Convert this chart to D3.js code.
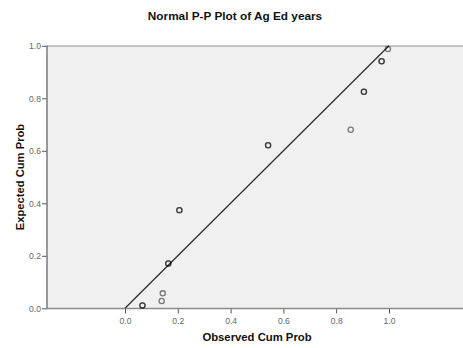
<!DOCTYPE html>
<html>
<head>
<meta charset="utf-8">
<script src="https://cdn.jsdelivr.net/npm/d3@7"></script>
<style>
  html, body { margin: 0; padding: 0; background: #fff; }
  svg { display: block; font-family: "Liberation Sans", Arial, sans-serif; }
</style>
</head>
<body>
<svg id="chart" width="463" height="348"></svg>
<script>
// Observed vs expected cumulative probabilities (one entry per distinct point)
const observedCum = [0.066, 0.139, 0.143, 0.164, 0.206, 0.542, 0.855, 0.905, 0.972, 0.996];
const expectedCum = [0.011, 0.028, 0.057, 0.171, 0.374, 0.621, 0.680, 0.825, 0.941, 0.988];
// Number of cases sharing each point (overlapping markers draw darker)
const caseCount  = [2, 1, 1, 2, 2, 2, 1, 2, 2, 1];
const tickValues = [0.0, 0.2, 0.4, 0.6, 0.8, 1.0];
const refLine    = [0, 1];

const svg = d3.select("#chart");
const plot = { left: 47, top: 46, right: 470, bottom: 308.5 };

const x = d3.scaleLinear().domain([0, 1]).range([125, 389]);
const y = d3.scaleLinear().domain([0, 1]).range([308.3, 45.8]);

// Plot background
svg.append("rect")
  .attr("x", plot.left).attr("y", plot.top)
  .attr("width", plot.right - plot.left).attr("height", plot.bottom - plot.top)
  .attr("fill", "#f0f0f0");

// Top frame line
svg.append("line")
  .attr("x1", plot.left).attr("x2", plot.right)
  .attr("y1", plot.top).attr("y2", plot.top)
  .attr("stroke", "#b4b4b4").attr("stroke-width", 1.5);

// Title
svg.append("text")
  .attr("x", 235).attr("y", 20)
  .attr("text-anchor", "middle")
  .attr("font-size", 11.8).attr("font-weight", "bold").attr("fill", "#111")
  .text("Normal P-P Plot of Ag Ed years");

// Axes
const xAxis = d3.axisBottom(x).tickValues(tickValues).tickSize(5).tickSizeOuter(0)
  .tickFormat(d3.format(".1f"));
const yAxis = d3.axisLeft(y).tickValues(tickValues).tickSize(5).tickSizeOuter(0)
  .tickFormat(d3.format(".1f"));

const gx = svg.append("g").attr("transform", `translate(0,${plot.bottom})`).call(xAxis);
gx.select(".domain").remove();
gx.append("line")
  .attr("x1", plot.left).attr("x2", plot.right)
  .attr("y1", 0).attr("y2", 0)
  .attr("stroke", "#8a8a8a").attr("stroke-width", 1.5);
gx.selectAll(".tick line").attr("stroke", "#555");
gx.selectAll(".tick text").attr("font-size", 8.6).attr("fill", "#666").attr("dy", "0.85em")
  .attr("font-family", "Liberation Sans, Arial, sans-serif");

const gy = svg.append("g").attr("transform", `translate(${plot.left},0)`).call(yAxis);
gy.select(".domain").remove();
gy.append("line")
  .attr("x1", 0).attr("x2", 0)
  .attr("y1", plot.top - 0.5).attr("y2", plot.bottom)
  .attr("stroke", "#7a7a7a").attr("stroke-width", 1.5);
gy.selectAll(".tick line").attr("stroke", "#555");
gy.selectAll(".tick text").attr("font-size", 8.6).attr("fill", "#666").attr("x", -6)
  .attr("font-family", "Liberation Sans, Arial, sans-serif");

// Axis titles
svg.append("text")
  .attr("x", 257).attr("y", 341)
  .attr("text-anchor", "middle")
  .attr("font-size", 11.3).attr("font-weight", "bold").attr("fill", "#111")
  .text("Observed Cum Prob");

svg.append("text")
  .attr("transform", "translate(24,177) rotate(-90)")
  .attr("text-anchor", "middle")
  .attr("font-size", 11.2).attr("font-weight", "bold").attr("fill", "#111")
  .text("Expected Cum Prob");

// Reference diagonal
svg.append("line")
  .attr("x1", x(refLine[0])).attr("y1", y(refLine[0]))
  .attr("x2", x(refLine[1])).attr("y2", y(refLine[1]))
  .attr("stroke", "#2a2a2a").attr("stroke-width", 1.2);

// Points: one circle per case, so shared points overlap
const cases = [];
observedCum.forEach((o, i) => {
  for (let k = 0; k < caseCount[i]; k++) cases.push({ o, e: expectedCum[i] });
});
svg.append("g").selectAll("circle")
  .data(cases)
  .join("circle")
  .attr("cx", d => x(d.o))
  .attr("cy", d => y(d.e))
  .attr("r", 2.6)
  .attr("fill", "none")
  .attr("stroke", "#000")
  .attr("stroke-opacity", 0.5)
  .attr("stroke-width", 1.3);
</script>
</body>
</html>
